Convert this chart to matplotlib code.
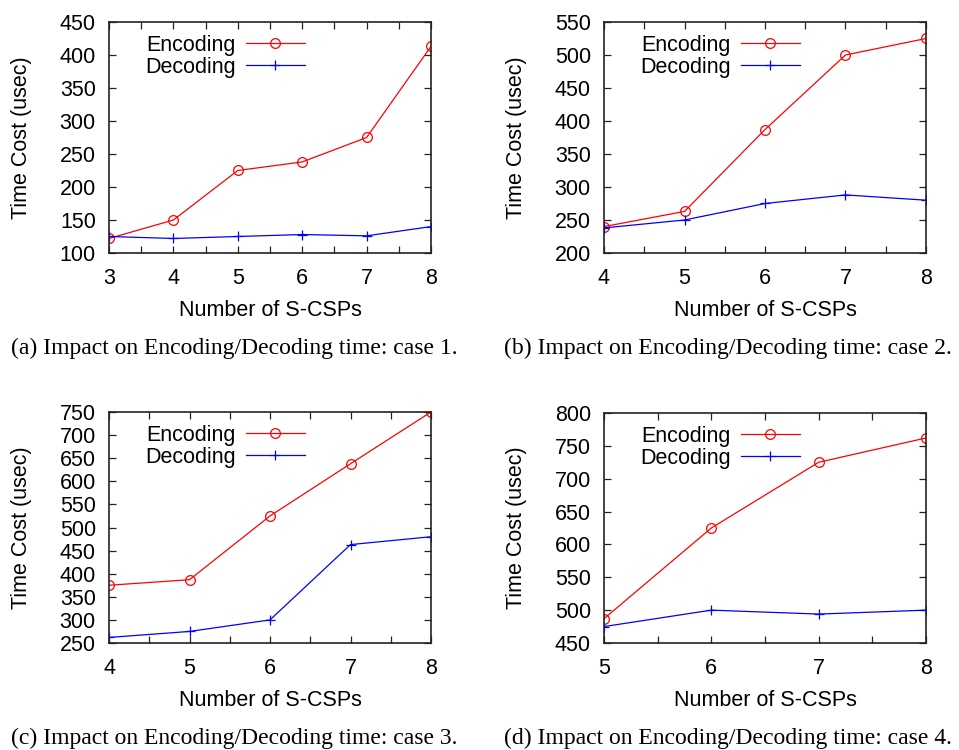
import matplotlib
matplotlib.use("Agg")
import matplotlib.pyplot as plt
from matplotlib.ticker import MultipleLocator

plt.rcParams["font.family"] = ["Liberation Sans", "DejaVu Sans"]

# data
x_a = [3, 4, 5, 6, 7, 8]
enc_a = [122, 150, 225, 238, 275, 413]
dec_a = [125, 122, 125, 128, 126, 140]

x_b = [4, 5, 6, 7, 8]
enc_b = [240, 263, 387, 500, 525]
dec_b = [238, 250, 275, 288, 280]

x_c = [4, 5, 6, 7, 8]
enc_c = [375, 387, 525, 638, 750]
dec_c = [262, 275, 300, 463, 480]

x_d = [5, 6, 7, 8]
enc_d = [487, 625, 725, 762]
dec_d = [475, 500, 494, 500]

panels = [
    (x_a, enc_a, dec_a, (100, 450), 50, "(a) Impact on Encoding/Decoding time: case 1."),
    (x_b, enc_b, dec_b, (200, 550), 50, "(b) Impact on Encoding/Decoding time: case 2."),
    (x_c, enc_c, dec_c, (250, 750), 50, "(c) Impact on Encoding/Decoding time: case 3."),
    (x_d, enc_d, dec_d, (450, 800), 50, "(d) Impact on Encoding/Decoding time: case 4."),
]

W, H = 959, 750
FS = 15.5
fig = plt.figure(figsize=(W / 100, H / 100), dpi=100)

# axes boxes in pixels: left, top, right, bottom
boxes = [(109, 22, 431, 253), (604, 22, 926, 253),
         (109, 412, 431, 643), (604, 413, 926, 643)]
caption_pos = [(234, 348), (728, 348), (234, 738), (728, 738)]

for (xs, enc, dec, ylim, ystep, cap), (l, t, r, b), (cx, cy) in zip(panels, boxes, caption_pos):
    ax = fig.add_axes([l / W, 1 - b / H, (r - l) / W, (b - t) / H])
    ax.plot(xs, enc, color="red", lw=0.9, marker="o", ms=7, mfc="none", mew=0.9, label="Encoding")
    ax.plot(xs, dec, color="blue", lw=0.9, marker="+", ms=6.5, mew=0.9, label="Decoding")
    ax.set_xlim(xs[0], xs[-1])
    ax.set_ylim(*ylim)
    ax.xaxis.set_major_locator(MultipleLocator(1))
    ax.xaxis.set_minor_locator(MultipleLocator(0.5))
    ax.yaxis.set_major_locator(MultipleLocator(ystep))
    ax.tick_params(which="both", direction="in", top=True, right=True,
                   length=5, width=0.9, labelsize=FS, color="#222222")
    ax.tick_params(axis="x", pad=11)
    ax.tick_params(axis="y", pad=9.5)
    for s in ax.spines.values():
        s.set_linewidth(1.2)
        s.set_color("#222222")
    ax.set_xlabel("Number of S-CSPs", fontsize=FS, labelpad=7.5)
    ax.set_ylabel("Time Cost (usec)", fontsize=FS, labelpad=20)
    ax.legend(loc="upper left", bbox_to_anchor=(36 / (r - l), 0.944), frameon=False,
              markerfirst=False, fontsize=FS, handlelength=2.7,
              handletextpad=0.5, labelspacing=0.03, borderaxespad=0, borderpad=0)
    fig.text(cx / W, 1 - cy / H, cap, ha="center", va="center",
             family=["Liberation Serif", "DejaVu Serif"], fontsize=17)

fig.savefig("out.png", dpi=100)
